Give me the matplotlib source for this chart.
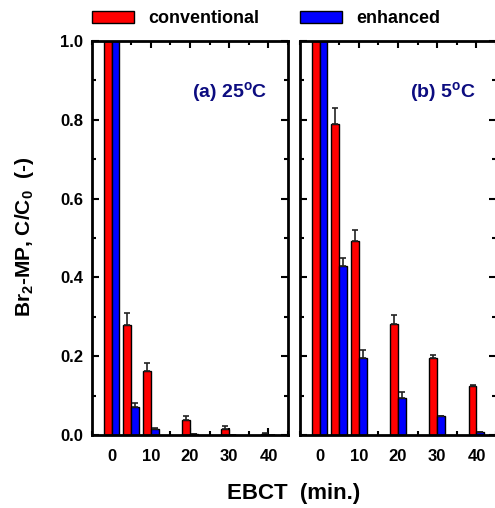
import matplotlib
matplotlib.use('Agg')
import matplotlib.pyplot as plt
from matplotlib.ticker import MultipleLocator
import numpy as np

plt.rcParams['font.family'] = ['Liberation Sans', 'DejaVu Sans']
plt.rcParams['font.weight'] = 'bold'
plt.rcParams['mathtext.fontset'] = 'custom'
plt.rcParams['mathtext.rm'] = 'Liberation Sans:bold'
plt.rcParams['mathtext.default'] = 'rm'

# EBCT (min.)
ebct = [0, 5, 10, 20, 30, 40]

# (a) 25 C
conv_25 = [1.0, 0.280, 0.163, 0.039, 0.015, 0.003]
conv_25_err = [0.0, 0.029, 0.021, 0.009, 0.007, 0.002]
enh_25 = [1.0, 0.071, 0.016, 0.002, 0.0, 0.0]
enh_25_err = [0.0, 0.011, 0.003, 0.0, 0.0, 0.0]

# (b) 5 C
conv_5 = [1.0, 0.790, 0.493, 0.281, 0.195, 0.124]
conv_5_err = [0.0, 0.040, 0.027, 0.024, 0.008, 0.003]
enh_5 = [1.0, 0.428, 0.195, 0.094, 0.048, 0.008]
enh_5_err = [0.0, 0.022, 0.021, 0.014, 0.0, 0.0]

RED = '#ff0000'
BLUE = '#0000ff'
NAVY = '#0c0c80'
BAR_W = 2.0


def draw_panel(ax, conv, conv_err, enh, enh_err, title):
    x = np.array(ebct, dtype=float)
    err_kw = dict(ecolor='#222222', elinewidth=1.2, capsize=2.5, capthick=1.2)
    zeros = np.zeros(len(x))
    b1 = ax.bar(x - BAR_W / 2, conv, BAR_W, color=RED, edgecolor='black',
                linewidth=1.0, yerr=[zeros, conv_err], error_kw=err_kw, zorder=2)
    b2 = ax.bar(x + BAR_W / 2, enh, BAR_W, color=BLUE, edgecolor='black',
                linewidth=1.0, yerr=[zeros, enh_err], error_kw=err_kw, zorder=2)
    ax.set_xlim(-5, 45)
    ax.set_ylim(0, 1.0)
    ax.xaxis.set_major_locator(MultipleLocator(10))
    ax.xaxis.set_minor_locator(MultipleLocator(5))
    ax.yaxis.set_major_locator(MultipleLocator(0.2))
    ax.yaxis.set_minor_locator(MultipleLocator(0.1))
    ax.yaxis.set_major_formatter(matplotlib.ticker.FormatStrFormatter('%.1f'))
    ax.tick_params(which='both', direction='in', top=True, right=True, width=1.5)
    ax.tick_params(which='major', length=5)
    ax.tick_params(which='minor', length=3)
    ax.tick_params(axis='x', pad=10, labelsize=12)
    ax.tick_params(axis='y', pad=6.5, labelsize=12)
    for s in ax.spines.values():
        s.set_linewidth(2)
    ax.text(0.895, 0.87, title, transform=ax.transAxes, ha='right', va='center',
            color=NAVY, fontsize=14, fontweight='bold')
    return b1, b2


fig = plt.figure(figsize=(4.95, 5.08), dpi=100)
ax_a = fig.add_axes([0.1859, 0.1437, 0.396, 0.7756])
ax_b = fig.add_axes([0.6061, 0.1437, 0.396, 0.7756])

ca, ea = draw_panel(ax_a, conv_25, conv_25_err, enh_25, enh_25_err, r'(a) 25$^\mathrm{o}$C')
cb, eb = draw_panel(ax_b, conv_5, conv_5_err, enh_5, enh_5_err, r'(b) 5$^\mathrm{o}$C')
ax_b.tick_params(axis='y', labelleft=False)

leg_kw = dict(loc='lower left', frameon=False, fontsize=13, handlelength=2.3,
              handleheight=0.7, handletextpad=0.8, borderaxespad=0, borderpad=0)
ax_a.legend([ca], ['conventional'], bbox_to_anchor=(0.0, 1.035), **leg_kw)
ax_b.legend([eb], ['enhanced'], bbox_to_anchor=(0.0, 1.035), **leg_kw)

fig.text(25 / 495, 1 - 237 / 508, r'Br$_2$-MP, C/C$_0$  (-)', rotation=90,
         ha='center', va='center', fontsize=15, fontweight='bold')
fig.text(294 / 495, 1 - 493 / 508, 'EBCT  (min.)', ha='center', va='center',
         fontsize=16, fontweight='bold')

fig.savefig('out.png', dpi=100)
